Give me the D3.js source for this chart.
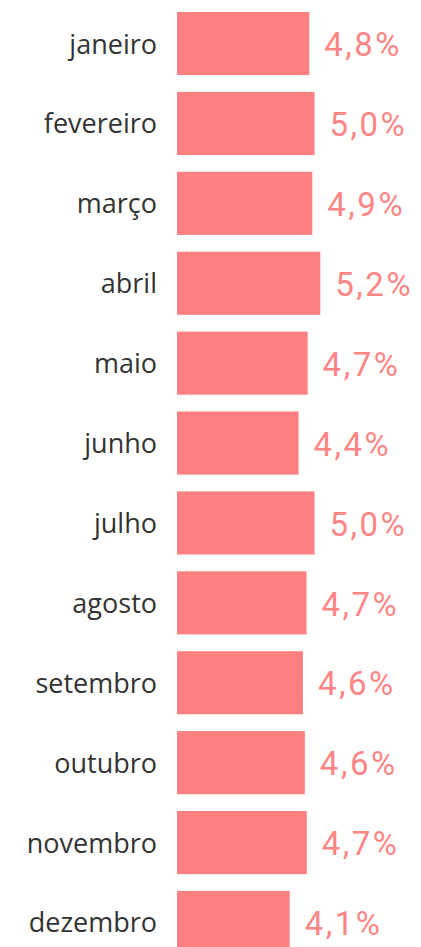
<!DOCTYPE html>
<html>
<head>
<meta charset="utf-8">
<script src="https://cdn.jsdelivr.net/npm/d3@7"></script>
<style>
  body { margin: 0; background: #fff; }
  svg { display: block; }
</style>
</head>
<body>
<div id="chart"></div>
<script>
(function () {
  // months and share per month (%)
  let months = ['janeiro', 'fevereiro', 'março', 'abril', 'maio', 'junho',
    'julho', 'agosto', 'setembro', 'outubro', 'novembro', 'dezembro'];
  let shares = [4.80, 4.99, 4.91, 5.20, 4.74, 4.41, 4.99, 4.70, 4.57, 4.64, 4.71, 4.09];

  let width = 421, height = 947;
  let barLeft = 177;

  let data = months.map((m, i) => ({ month: m, value: shares[i] }));

  let svg = d3.select('#chart')
    .append('svg')
    .attr('width', width)
    .attr('height', height);

  let xScale = d3.scaleLinear()
    .domain([0, 5.2])
    .range([barLeft, 320.3]);

  let yScale = d3.scaleBand()
    .domain(months)
    .range([3.6, 962.4])
    .paddingInner(0.21)
    .paddingOuter(0.105);

  let fmt = v => d3.format('.1f')(v).replace('.', ',') + '%';

  let row = svg.selectAll('g.row')
    .data(data)
    .enter()
    .append('g')
    .attr('class', 'row')
    .attr('transform', d => `translate(0, ${yScale(d.month)})`);

  row.append('rect')
    .attr('x', xScale(0))
    .attr('y', 0)
    .attr('width', d => xScale(d.value) - xScale(0))
    .attr('height', yScale.bandwidth())
    .attr('fill', '#FF8080');

  // month labels
  row.append('text')
    .attr('x', barLeft - 20)
    .attr('y', yScale.bandwidth() / 2 + 10)
    .attr('text-anchor', 'end')
    .style('font-family', '"Open Sans", sans-serif')
    .style('font-size', '27px')
    .attr('fill', '#333333')
    .text(d => d.month);

  // value labels
  row.append('text')
    .attr('x', d => xScale(d.value) + 15)
    .attr('y', yScale.bandwidth() / 2 + 12.7)
    .style('font-family', 'Roboto, sans-serif')
    .style('font-size', '33px')
    .style('letter-spacing', '2.5px')
    .attr('fill', '#FF8585')
    .text(d => fmt(d.value));
})();
</script>
</body>
</html>
